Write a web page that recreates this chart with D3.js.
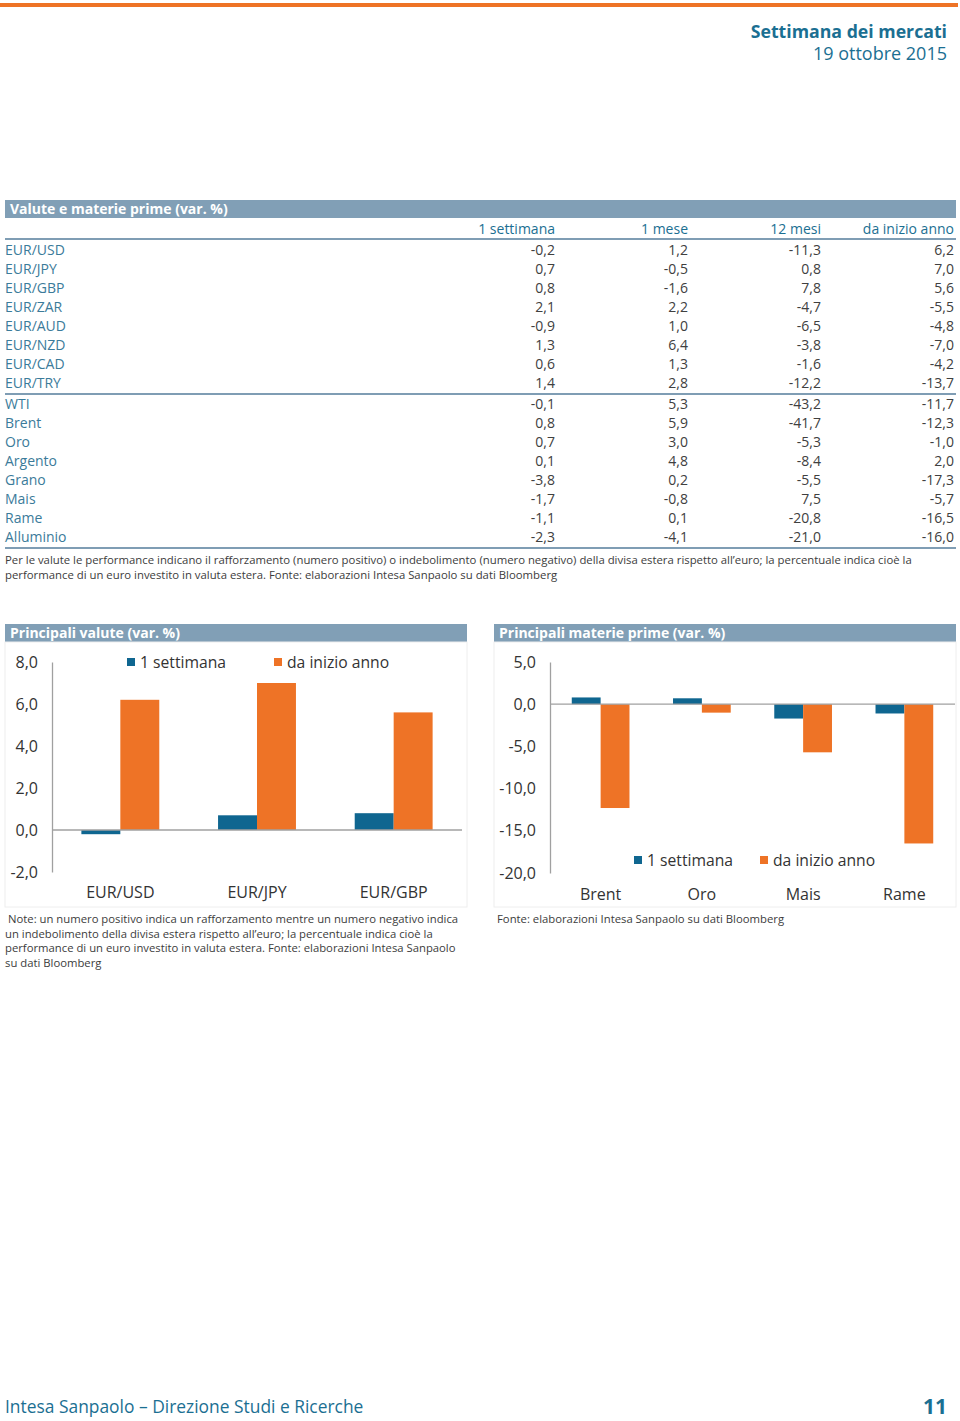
<!DOCTYPE html>
<html><head><meta charset="utf-8">
<script src="https://cdn.jsdelivr.net/npm/d3@7"></script>
<style>
html,body{margin:0;padding:0;background:#fff;}
svg{display:block;font-family:"Open Sans","Noto Sans",sans-serif;}
</style></head>
<body>
<svg id="page" width="960" height="1421"></svg>
<script>
// ---------- DATA ----------
const tableColumns = ["1 settimana", "1 mese", "12 mesi", "da inizio anno"];
const fxRows = ["EUR/USD","EUR/JPY","EUR/GBP","EUR/ZAR","EUR/AUD","EUR/NZD","EUR/CAD","EUR/TRY"];
const fxWeek  = [-0.2, 0.7, 0.8, 2.1, -0.9, 1.3, 0.6, 1.4];
const fxMonth = [1.2, -0.5, -1.6, 2.2, 1.0, 6.4, 1.3, 2.8];
const fx12m   = [-11.3, 0.8, 7.8, -4.7, -6.5, -3.8, -1.6, -12.2];
const fxYtd   = [6.2, 7.0, 5.6, -5.5, -4.8, -7.0, -4.2, -13.7];
const cmdRows = ["WTI","Brent","Oro","Argento","Grano","Mais","Rame","Alluminio"];
const cmdWeek  = [-0.1, 0.8, 0.7, 0.1, -3.8, -1.7, -1.1, -2.3];
const cmdMonth = [5.3, 5.9, 3.0, 4.8, 0.2, -0.8, 0.1, -4.1];
const cmd12m   = [-43.2, -41.7, -5.3, -8.4, -5.5, 7.5, -20.8, -21.0];
const cmdYtd   = [-11.7, -12.3, -1.0, 2.0, -17.3, -5.7, -16.5, -16.0];

const seriesNames = ["1 settimana", "da inizio anno"];
const fxChartCats = ["EUR/USD","EUR/JPY","EUR/GBP"];
const fxChartWeek = [-0.2, 0.7, 0.8];
const fxChartYtd  = [6.2, 7.0, 5.6];
const fxTicks = [8, 6, 4, 2, 0, -2];
const cmdChartCats = ["Brent","Oro","Mais","Rame"];
const cmdChartWeek = [0.8, 0.7, -1.7, -1.1];
const cmdChartYtd  = [-12.3, -1.0, -5.7, -16.5];
const cmdTicks = [5, 0, -5, -10, -15, -20];

// ---------- STYLE ----------
const C = {
  orange: "#ee7326", blue: "#0f6690", bar: "#819fb6", teal: "#1b6f92",
  label: "#3b7b9a", num: "#404040", note: "#3c3c3c", rule: "#7f9db4"
};
const loc = d3.formatLocale({decimal: ",", thousands: ".", grouping: [3], currency: ["€", ""], minus: "-"});
const f1 = loc.format(".1f");

const svg = d3.select("#page");

// top orange rule
svg.append("rect").attr("x", 0).attr("y", 3).attr("width", 958).attr("height", 4).attr("fill", C.orange);

// header
svg.append("text").attr("x", 947).attr("y", 38).attr("text-anchor", "end")
  .attr("font-size", 17.7).attr("font-weight", 700).attr("fill", C.teal).text("Settimana dei mercati");
svg.append("text").attr("x", 947).attr("y", 60).attr("text-anchor", "end")
  .attr("font-size", 18).attr("fill", C.teal).text("19 ottobre 2015");

// ---------- TABLE ----------
function titleBar(x, y, w, text) {
  svg.append("rect").attr("x", x).attr("y", y).attr("width", w).attr("height", 18).attr("fill", C.bar);
  svg.append("text").attr("x", x + 5).attr("y", y + 14).attr("font-size", 14).attr("font-weight", 700)
    .attr("fill", "#fff").text(text);
}
titleBar(5, 200, 951, "Valute e materie prime (var. %)");

const colX = d3.scalePoint().domain(tableColumns).range([555, 954]);
svg.append("g").selectAll("text").data(tableColumns).join("text")
  .attr("x", d => colX(d)).attr("y", 234).attr("text-anchor", "end")
  .attr("font-size", 14).attr("fill", C.teal).text(d => d);

function rule(y) {
  svg.append("line").attr("x1", 5).attr("x2", 956).attr("y1", y).attr("y2", y)
    .attr("stroke", C.rule).attr("stroke-width", 2);
}
rule(239); rule(394); rule(548);

function tableBlock(rows, cols, y0) {
  const rowY = d3.scaleLinear().domain([0, rows.length - 1]).range([y0, y0 + 19 * (rows.length - 1)]);
  const g = svg.append("g");
  g.selectAll("text.lab").data(rows).join("text").attr("class", "lab")
    .attr("x", 5).attr("y", (d, i) => rowY(i) + 5).attr("font-size", 14).attr("fill", C.label).text(d => d);
  cols.forEach((arr, ci) => {
    g.selectAll("text.c" + ci).data(arr).join("text").attr("class", "c" + ci)
      .attr("x", colX(tableColumns[ci])).attr("y", (d, i) => rowY(i) + 5).attr("text-anchor", "end")
      .attr("font-size", 14).attr("fill", C.num).text(d => f1(d));
  });
}
tableBlock(fxRows, [fxWeek, fxMonth, fx12m, fxYtd], 250);
tableBlock(cmdRows, [cmdWeek, cmdMonth, cmd12m, cmdYtd], 404);

function para(x, y, lines, size, lh) {
  const t = svg.append("text").attr("font-size", size).attr("fill", C.note);
  lines.forEach((l, i) => t.append("tspan").attr("x", x).attr("y", y + i * lh).text(l));
  return t;
}
para(5, 564, [
  "Per le valute le performance indicano il rafforzamento (numero positivo) o indebolimento (numero negativo) della divisa estera rispetto all\u2019euro; la percentuale indica cioè la",
  "performance di un euro investito in valuta estera. Fonte: elaborazioni Intesa Sanpaolo su dati Bloomberg"
], 11.35, 14.5);

// ---------- CHARTS ----------
function barChart(o) {
  titleBar(o.px, 624, o.pw, o.title);
  svg.append("rect").attr("x", o.px).attr("y", 642).attr("width", o.pw).attr("height", 265)
    .attr("fill", "none").attr("stroke", "#eeeeee");
  const y = d3.scaleLinear().domain(o.domain).range([o.yBottom, o.yTop]);
  const x0 = d3.scaleBand().domain(o.cats).range([o.x0, o.x1]).paddingInner(0.43).paddingOuter(0.215);
  const x1 = d3.scaleBand().domain(seriesNames).range([0, x0.bandwidth()]);
  const g = svg.append("g");
  // y axis
  const ax = g.append("g").attr("transform", `translate(${o.x0},0)`)
    .call(d3.axisLeft(y).tickValues(o.ticks).tickFormat(f1).tickSize(0).tickPadding(o.tickPad));
  ax.select(".domain").attr("stroke", "#a0a0a0").attr("stroke-width", 1.3);
  ax.selectAll("text").attr("font-size", 16).attr("fill", "#333");
  ax.attr("font-family", null);
  // bars
  const data = o.cats.map((c, i) => ({c, vals: [o.week[i], o.ytd[i]]}));
  g.selectAll("g.cat").data(data).join("g").attr("class", "cat")
    .attr("transform", d => `translate(${x0(d.c)},0)`)
    .selectAll("rect").data(d => d.vals.map((v, k) => ({v, s: seriesNames[k]}))).join("rect")
    .attr("x", d => x1(d.s)).attr("width", x1.bandwidth())
    .attr("y", d => y(Math.max(0, d.v))).attr("height", d => Math.abs(y(d.v) - y(0)))
    .attr("fill", d => d.s === seriesNames[0] ? C.blue : C.orange);
  // zero line
  g.append("line").attr("x1", o.x0).attr("x2", o.x1).attr("y1", y(0)).attr("y2", y(0))
    .attr("stroke", "#a0a0a0").attr("stroke-width", 1.3);
  // category labels
  g.selectAll("text.cat").data(o.cats).join("text").attr("class", "cat")
    .attr("x", d => x0(d) + x0.bandwidth() / 2).attr("y", o.catY).attr("text-anchor", "middle")
    .attr("font-size", 16).attr("fill", "#333").text(d => d);
  // legend
  seriesNames.forEach((s, k) => {
    g.append("rect").attr("x", o.legX[k]).attr("y", o.legY - 10).attr("width", 8).attr("height", 8)
      .attr("fill", k === 0 ? C.blue : C.orange);
    g.append("text").attr("x", o.legX[k] + 13).attr("y", o.legY).attr("font-size", 15.7)
      .attr("fill", "#333").text(s);
  });
}

barChart({
  title: "Principali valute (var. %)", px: 5, pw: 462,
  cats: fxChartCats, week: fxChartWeek, ytd: fxChartYtd,
  domain: [-2, 8], ticks: fxTicks, yTop: 662, yBottom: 872, x0: 52, x1: 462, tickPad: 14,
  catY: 898, legX: [127, 274], legY: 668
});
barChart({
  title: "Principali materie prime (var. %)", px: 494, pw: 462,
  cats: cmdChartCats, week: cmdChartWeek, ytd: cmdChartYtd,
  domain: [-20, 5], ticks: cmdTicks, yTop: 662, yBottom: 873, x0: 550, x1: 955, tickPad: 14,
  catY: 900, legX: [634, 760], legY: 866
});

const note = para(5, 923, [
  "Note: un numero positivo indica un rafforzamento mentre un numero negativo indica",
  "un indebolimento della divisa estera rispetto all\u2019euro; la percentuale indica cioè la",
  "performance di un euro investito in valuta estera. Fonte: elaborazioni Intesa Sanpaolo",
  "su dati Bloomberg"
], 11.3, 14.5);
note.select("tspan").attr("x", 8);
para(497, 923, ["Fonte: elaborazioni Intesa Sanpaolo su dati Bloomberg"], 11.3, 14.5);

// footer
svg.append("text").attr("x", 5).attr("y", 1413).attr("font-size", 17.4).attr("fill", C.teal)
  .text("Intesa Sanpaolo \u2013 Direzione Studi e Ricerche");
svg.append("text").attr("x", 947).attr("y", 1414).attr("text-anchor", "end").attr("font-size", 21)
  .attr("font-weight", 700).attr("fill", C.teal).text("11");
</script>
</body></html>
